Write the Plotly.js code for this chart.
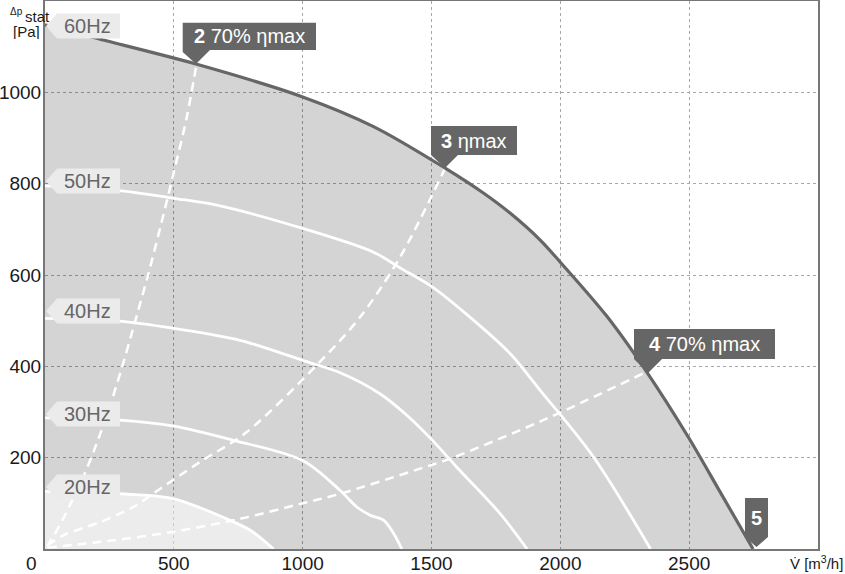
<!DOCTYPE html>
<html>
<head>
<meta charset="utf-8">
<script src="https://cdn.plot.ly/plotly-3.0.1.min.js"></script>
<style>html,body{margin:0;padding:0;background:#fff;}#chart{width:845px;height:574px;}</style>
</head>
<body>
<div id="chart"></div>
<script>
// ---- data ----
const hz60X = [0, 188, 586, 1000, 1275, 1553, 1700, 1806, 1921, 2000, 2180, 2335, 2500, 2620, 2748];
const hz60Y = [1148, 1120, 1062, 990, 925, 834, 780, 735, 677, 628, 510, 388, 242, 125, 0];
const hz50X = [0, 291, 500, 667, 1000, 1275, 1380, 1500, 1640, 1805, 1921, 2128, 2350];
const hz50Y = [795, 785, 768, 753, 702, 650, 615, 575, 512, 428, 348, 202, 0];
const hz40X = [0, 291, 500, 757, 1000, 1150, 1300, 1400, 1500, 1600, 1767, 1871];
const hz40Y = [505, 499, 483, 457, 413, 385, 340, 295, 240, 178, 77, 0];
const hz30X = [0, 291, 500, 731, 1000, 1146, 1210, 1262, 1314, 1353, 1385];
const hz30Y = [287, 282, 269, 238, 194, 128, 92, 74, 63, 34, 0];
const hz20X = [0, 291, 500, 705, 800, 887];
const hz20Y = [126, 121, 110, 66, 40, 0];
const sys2X = [8, 60, 100, 150, 200, 250, 300, 343, 400, 450, 500, 550, 588];
const sys2Y = [5, 55, 100, 160, 230, 310, 400, 485, 600, 710, 825, 945, 1062];
const sys3X = [10, 71, 214, 343, 447, 600, 783, 1055, 1223, 1379, 1553];
const sys3Y = [8, 30, 59, 92, 132, 190, 256, 403, 508, 640, 834];
const sys4X = [10, 250, 500, 757, 1000, 1146, 1456, 1573, 1921, 2335];
const sys4Y = [3, 18, 38, 66, 100, 121, 176, 198, 279, 388];
const hzLabels = ['60Hz', '50Hz', '40Hz', '30Hz', '20Hz'];
const pointLabels = ['<b>2</b> 70% ηmax', '<b>3</b> ηmax', '<b>4</b> 70% ηmax', '<b>5</b>'];
const xTicks = [500, 1000, 1500, 2000, 2500];
const yTicks = [200, 400, 600, 800, 1000];

// ---- geometry helpers (pixel -> paper) ----
const M = {l: 45, r: 27, t: 1, b: 25};
const W = 845, H = 574;
const PW = W - M.l - M.r, PH = H - M.t - M.b;
const px = x => (x - M.l) / PW;
const py = y => (H - M.b - y) / PH;
function pathOf(pts) {
  return 'M' + pts.map(p => px(p[0]).toFixed(5) + ',' + py(p[1]).toFixed(5)).join('L') + 'Z';
}
const FONT = 'Arial, "Liberation Sans", sans-serif';

const white = {color: '#ffffff', width: 2.8, shape: 'spline', smoothing: 0.9};
const dashed = {color: '#ffffff', width: 2.5, dash: '9px,6px', shape: 'spline', smoothing: 0.9};

const traces = [
  {x: hz60X, y: hz60Y, mode: 'lines', fill: 'tozeroy', fillcolor: 'rgba(0,0,0,0.17)',
   line: {width: 0, shape: 'spline', smoothing: 0.9}, hoverinfo: 'skip'},
  {x: hz20X, y: hz20Y, mode: 'lines', fill: 'tozeroy', fillcolor: 'rgba(255,255,255,0.55)',
   line: white, hoverinfo: 'skip'},
  {x: hz30X, y: hz30Y, mode: 'lines', line: white, hoverinfo: 'skip'},
  {x: hz40X, y: hz40Y, mode: 'lines', line: white, hoverinfo: 'skip'},
  {x: hz50X, y: hz50Y, mode: 'lines', line: white, hoverinfo: 'skip'},
  {x: sys2X, y: sys2Y, mode: 'lines', line: dashed, hoverinfo: 'skip'},
  {x: sys3X, y: sys3Y, mode: 'lines', line: dashed, hoverinfo: 'skip'},
  {x: sys4X, y: sys4Y, mode: 'lines', line: dashed, hoverinfo: 'skip'},
  {x: hz60X, y: hz60Y, mode: 'lines', line: {color: '#666666', width: 3.2, shape: 'spline', smoothing: 0.9}, hoverinfo: 'skip'}
];

const shapes = [];
const annotations = [];
const hzCenters = [26, 181, 311, 414, 487];
hzLabels.forEach((t, i) => {
  const c = hzCenters[i];
  shapes.push({type: 'path', xref: 'paper', yref: 'paper', layer: 'above',
    path: pathOf([[46, c], [57, c - 12.5], [120, c - 12.5], [120, c + 12.5], [57, c + 12.5]]),
    fillcolor: '#ebebeb', line: {width: 0}});
  annotations.push({xref: 'paper', yref: 'paper', x: px(87.5), y: py(c), xanchor: 'center', yanchor: 'middle',
    text: t, showarrow: false, font: {family: FONT, size: 20, color: '#666666'}});
});

const darkGeom = [
  {box: [182.7, 22.7, 316, 50], ptr: [[182.7, 52], [196, 64], [210, 50]]},
  {box: [431, 126, 517, 155], ptr: [[431, 155], [445, 168], [458, 155]]},
  {box: [634, 329, 775, 359], ptr: [[634, 359], [648, 373], [662, 359]]},
  {box: [745, 498, 768, 537], ptr: [[745, 537], [756.5, 547], [768, 537]]}
];
darkGeom.forEach((d, i) => {
  const [x0, y0, x1, y1] = d.box;
  const p = d.ptr;
  shapes.push({type: 'path', xref: 'paper', yref: 'paper', layer: 'above',
    path: pathOf([[x0, y0], [x1, y0], [x1, y1], [p[2][0], y1], p[1], p[0], [x0, y1]]),
    fillcolor: '#666666', line: {width: 0}});
  annotations.push({xref: 'paper', yref: 'paper', x: px((x0 + x1) / 2), y: py((y0 + y1) / 2),
    xanchor: 'center', yanchor: 'middle', text: pointLabels[i], showarrow: false,
    font: {family: FONT, size: 20, color: '#ffffff'}});
});

// axis texts
annotations.push({xref: 'paper', yref: 'paper', x: px(31), y: py(563), xanchor: 'center', yanchor: 'middle',
  text: '0', showarrow: false, font: {family: FONT, size: 19, color: '#1a1a1a'}});
annotations.push({xref: 'paper', yref: 'paper', x: px(845), y: py(562), xanchor: 'right', yanchor: 'middle',
  text: 'V̇ [m<sup>3</sup>/h]', showarrow: false, font: {family: FONT, size: 15, color: '#1a1a1a'}});
annotations.push({xref: 'paper', yref: 'paper', x: px(16.5), y: py(11.5), xanchor: 'center', yanchor: 'middle',
  text: 'Δp', showarrow: false, font: {family: FONT, size: 10, color: '#1a1a1a'}});
annotations.push({xref: 'paper', yref: 'paper', x: px(37.5), y: py(16.5), xanchor: 'center', yanchor: 'middle',
  text: 'stat', showarrow: false, height: 15, borderpad: 0, font: {family: FONT, size: 15, color: '#1a1a1a'}});
annotations.push({xref: 'paper', yref: 'paper', x: px(26), y: py(31.5), xanchor: 'center', yanchor: 'middle',
  text: '[Pa]', showarrow: false, height: 15, borderpad: 0, font: {family: FONT, size: 15, color: '#1a1a1a'}});

const axisCommon = {
  showgrid: true, gridcolor: '#a8a8a8', griddash: 'dot', gridwidth: 1,
  showline: true, linecolor: '#777777', linewidth: 2, mirror: true,
  ticks: '', zeroline: false, fixedrange: true,
  tickfont: {family: FONT, size: 19, color: '#1a1a1a'}
};
const layout = {
  width: W, height: H, margin: M,
  paper_bgcolor: '#ffffff', plot_bgcolor: '#ffffff', showlegend: false,
  font: {family: FONT},
  xaxis: Object.assign({}, axisCommon, {range: [0, 3000], tickvals: xTicks, ticktext: xTicks.map(String), ticklabelstandoff: -4}),
  yaxis: Object.assign({}, axisCommon, {range: [0, 1200], tickvals: yTicks, ticktext: yTicks.map(String), ticklabelstandoff: -2}),
  shapes: shapes, annotations: annotations
};
Plotly.newPlot('chart', traces, layout, {displayModeBar: false, staticPlot: true});
</script>
</body>
</html>
